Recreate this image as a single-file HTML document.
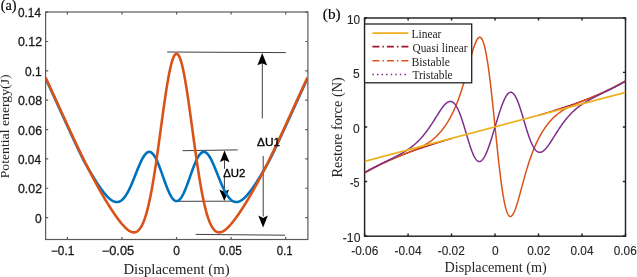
<!DOCTYPE html>
<html><head><meta charset="utf-8"><style>
html,body{margin:0;padding:0;background:#fff;}
body{width:637px;height:277px;overflow:hidden;}
svg{display:block;filter:blur(0.3px);}
.sans{font-family:"Liberation Sans",sans-serif;}
.serif{font-family:"Liberation Serif",serif;}
</style></head><body>
<svg width="637" height="277" viewBox="0 0 637 277">
<rect width="637" height="277" fill="#fff"/>

<g fill="none" stroke="#5a5a5a" stroke-width="1.2">
<rect x="45.60" y="12.00" width="262.30" height="227.50"/>
<path d="M67.39 239.50 V236.90 M67.39 12.00 V14.60 M121.97 239.50 V236.90 M121.97 12.00 V14.60 M176.55 239.50 V236.90 M176.55 12.00 V14.60 M231.13 239.50 V236.90 M231.13 12.00 V14.60 M285.71 239.50 V236.90 M285.71 12.00 V14.60 M45.60 217.60 H48.20 M307.90 217.60 H305.30 M45.60 188.25 H48.20 M307.90 188.25 H305.30 M45.60 158.89 H48.20 M307.90 158.89 H305.30 M45.60 129.54 H48.20 M307.90 129.54 H305.30 M45.60 100.18 H48.20 M307.90 100.18 H305.30 M45.60 70.83 H48.20 M307.90 70.83 H305.30 M45.60 41.48 H48.20 M307.90 41.48 H305.30 M45.60 12.12 H48.20 M307.90 12.12 H305.30"/>
</g>
<g stroke="#2a2a2a" stroke-width="0.9" fill="none">
<path d="M167.2 52.0 L285.9 52.6 M195.7 234.4 L285.2 235.2 M182.5 150.7 L237.7 149.9 M177.9 201.3 L233 201.2"/>
<path d="M262.3 60 V118.4 M263.2 155.9 V216.5 M224.5 158 V168.9 M224.4 177 V190.5"/>
</g>
<path d="M262.20 52.90 L267.20 65.50 L262.20 63.20 L257.40 65.30 Z" fill="#000"/>
<path d="M263.10 227.50 L267.90 215.40 L263.10 218.00 L258.30 215.40 Z" fill="#000"/>
<path d="M224.50 150.40 L229.50 162.30 L224.50 160.00 L220.00 161.90 Z" fill="#000"/>
<path d="M224.30 201.10 L229.10 189.40 L224.30 191.80 L219.40 189.40 Z" fill="#000"/>
<clipPath id="cl"><rect x="45.60" y="12.00" width="262.30" height="227.50"/></clipPath>
<g clip-path="url(#cl)">
<path d="M45.56 78.40 L45.99 79.32 L46.43 80.25 L46.87 81.19 L47.30 82.12 L47.74 83.06 L48.18 84.00 L48.61 84.94 L49.05 85.88 L49.49 86.82 L49.92 87.76 L50.36 88.71 L50.80 89.66 L51.23 90.61 L51.67 91.55 L52.11 92.50 L52.54 93.46 L52.98 94.41 L53.42 95.36 L53.85 96.32 L54.29 97.27 L54.73 98.23 L55.16 99.18 L55.60 100.14 L56.04 101.10 L56.47 102.05 L56.91 103.01 L57.35 103.97 L57.78 104.93 L58.22 105.89 L58.66 106.85 L59.09 107.81 L59.53 108.77 L59.97 109.72 L60.40 110.68 L60.84 111.64 L61.28 112.60 L61.71 113.56 L62.15 114.52 L62.59 115.48 L63.02 116.43 L63.46 117.39 L63.90 118.35 L64.33 119.30 L64.77 120.26 L65.21 121.21 L65.64 122.17 L66.08 123.12 L66.52 124.07 L66.95 125.02 L67.39 125.97 L67.83 126.92 L68.26 127.87 L68.70 128.82 L69.14 129.77 L69.57 130.71 L70.01 131.66 L70.45 132.60 L70.88 133.54 L71.32 134.48 L71.76 135.42 L72.19 136.36 L72.63 137.29 L73.07 138.23 L73.50 139.16 L73.94 140.09 L74.38 141.02 L74.81 141.96 L75.25 142.89 L75.69 143.83 L76.12 144.77 L76.56 145.71 L77.00 146.64 L77.43 147.58 L77.87 148.51 L78.31 149.43 L78.74 150.36 L79.18 151.27 L79.62 152.18 L80.05 153.09 L80.49 153.99 L80.93 154.88 L81.36 155.76 L81.80 156.64 L82.24 157.51 L82.67 158.37 L83.11 159.22 L83.55 160.06 L83.98 160.89 L84.42 161.71 L84.86 162.52 L85.29 163.33 L85.73 164.12 L86.17 164.91 L86.60 165.69 L87.04 166.46 L87.48 167.23 L87.91 167.98 L88.35 168.74 L88.79 169.48 L89.22 170.22 L89.66 170.96 L90.10 171.69 L90.53 172.43 L90.97 173.16 L91.41 173.89 L91.84 174.63 L92.28 175.35 L92.72 176.08 L93.15 176.79 L93.59 177.51 L94.03 178.22 L94.46 178.92 L94.90 179.62 L95.33 180.31 L95.77 181.00 L96.21 181.68 L96.64 182.36 L97.08 183.03 L97.52 183.70 L97.95 184.36 L98.39 185.01 L98.83 185.66 L99.26 186.30 L99.70 186.93 L100.14 187.56 L100.57 188.18 L101.01 188.79 L101.45 189.39 L101.88 189.99 L102.32 190.57 L102.76 191.15 L103.19 191.72 L103.63 192.28 L104.07 192.83 L104.50 193.36 L104.94 193.89 L105.38 194.41 L105.81 194.91 L106.25 195.40 L106.69 195.88 L107.12 196.35 L107.56 196.80 L108.00 197.24 L108.43 197.66 L108.87 198.07 L109.31 198.46 L109.74 198.83 L110.18 199.19 L110.62 199.53 L111.05 199.85 L111.49 200.16 L111.93 200.44 L112.36 200.70 L112.80 200.94 L113.24 201.16 L113.67 201.36 L114.11 201.53 L114.55 201.68 L114.98 201.81 L115.42 201.91 L115.86 201.98 L116.29 202.03 L116.73 202.05 L117.17 202.04 L117.60 202.00 L118.04 201.94 L118.48 201.84 L118.91 201.72 L119.35 201.56 L119.79 201.37 L120.22 201.15 L120.66 200.90 L121.10 200.62 L121.53 200.30 L121.97 199.95 L122.41 199.57 L122.84 199.15 L123.28 198.70 L123.72 198.21 L124.15 197.70 L124.59 197.14 L125.03 196.56 L125.46 195.94 L125.90 195.29 L126.34 194.61 L126.77 193.90 L127.21 193.15 L127.65 192.38 L128.08 191.57 L128.52 190.74 L128.96 189.88 L129.39 188.99 L129.83 188.07 L130.27 187.14 L130.70 186.17 L131.14 185.19 L131.58 184.19 L132.01 183.17 L132.45 182.13 L132.89 181.08 L133.32 180.01 L133.76 178.93 L134.20 177.84 L134.63 176.75 L135.07 175.65 L135.51 174.55 L135.94 173.45 L136.38 172.35 L136.82 171.25 L137.25 170.16 L137.69 169.08 L138.13 168.01 L138.56 166.96 L139.00 165.92 L139.44 164.90 L139.87 163.90 L140.31 162.93 L140.75 161.98 L141.18 161.07 L141.62 160.18 L142.06 159.33 L142.49 158.51 L142.93 157.73 L143.37 156.99 L143.80 156.30 L144.24 155.65 L144.68 155.04 L145.11 154.49 L145.55 153.98 L145.99 153.53 L146.42 153.13 L146.86 152.78 L147.30 152.49 L147.73 152.25 L148.17 152.07 L148.61 151.96 L149.04 151.90 L149.48 151.90 L149.91 151.95 L150.35 152.07 L150.79 152.25 L151.22 152.49 L151.66 152.79 L152.10 153.14 L152.53 153.56 L152.97 154.03 L153.41 154.56 L153.84 155.14 L154.28 155.78 L154.72 156.47 L155.15 157.21 L155.59 158.00 L156.03 158.84 L156.46 159.72 L156.90 160.64 L157.34 161.61 L157.77 162.61 L158.21 163.65 L158.65 164.72 L159.08 165.82 L159.52 166.95 L159.96 168.10 L160.39 169.28 L160.83 170.47 L161.27 171.68 L161.70 172.90 L162.14 174.13 L162.58 175.37 L163.01 176.61 L163.45 177.85 L163.89 179.09 L164.32 180.32 L164.76 181.54 L165.20 182.75 L165.63 183.94 L166.07 185.11 L166.51 186.26 L166.94 187.39 L167.38 188.49 L167.82 189.56 L168.25 190.59 L168.69 191.59 L169.13 192.55 L169.56 193.46 L170.00 194.34 L170.44 195.17 L170.87 195.95 L171.31 196.68 L171.75 197.36 L172.18 197.99 L172.62 198.56 L173.06 199.08 L173.49 199.54 L173.93 199.94 L174.37 200.27 L174.80 200.55 L175.24 200.77 L175.68 200.93 L176.11 201.02 L176.55 201.05 L176.99 201.02 L177.42 200.93 L177.86 200.77 L178.30 200.55 L178.73 200.27 L179.17 199.94 L179.61 199.54 L180.04 199.08 L180.48 198.56 L180.92 197.99 L181.35 197.36 L181.79 196.68 L182.23 195.95 L182.66 195.17 L183.10 194.34 L183.54 193.46 L183.97 192.55 L184.41 191.59 L184.85 190.59 L185.28 189.56 L185.72 188.49 L186.16 187.39 L186.59 186.26 L187.03 185.11 L187.47 183.94 L187.90 182.75 L188.34 181.54 L188.78 180.32 L189.21 179.09 L189.65 177.85 L190.09 176.61 L190.52 175.37 L190.96 174.13 L191.40 172.90 L191.83 171.68 L192.27 170.47 L192.71 169.28 L193.14 168.10 L193.58 166.95 L194.02 165.82 L194.45 164.72 L194.89 163.65 L195.33 162.61 L195.76 161.61 L196.20 160.64 L196.64 159.72 L197.07 158.84 L197.51 158.00 L197.95 157.21 L198.38 156.47 L198.82 155.78 L199.26 155.14 L199.69 154.56 L200.13 154.03 L200.57 153.56 L201.00 153.14 L201.44 152.79 L201.88 152.49 L202.31 152.25 L202.75 152.07 L203.19 151.95 L203.62 151.90 L204.06 151.90 L204.49 151.96 L204.93 152.07 L205.37 152.25 L205.80 152.49 L206.24 152.78 L206.68 153.13 L207.11 153.53 L207.55 153.98 L207.99 154.49 L208.42 155.04 L208.86 155.65 L209.30 156.30 L209.73 156.99 L210.17 157.73 L210.61 158.51 L211.04 159.33 L211.48 160.18 L211.92 161.07 L212.35 161.98 L212.79 162.93 L213.23 163.90 L213.66 164.90 L214.10 165.92 L214.54 166.96 L214.97 168.01 L215.41 169.08 L215.85 170.16 L216.28 171.25 L216.72 172.35 L217.16 173.45 L217.59 174.55 L218.03 175.65 L218.47 176.75 L218.90 177.84 L219.34 178.93 L219.78 180.01 L220.21 181.08 L220.65 182.13 L221.09 183.17 L221.52 184.19 L221.96 185.19 L222.40 186.17 L222.83 187.14 L223.27 188.07 L223.71 188.99 L224.14 189.88 L224.58 190.74 L225.02 191.57 L225.45 192.38 L225.89 193.15 L226.33 193.90 L226.76 194.61 L227.20 195.29 L227.64 195.94 L228.07 196.56 L228.51 197.14 L228.95 197.70 L229.38 198.21 L229.82 198.70 L230.26 199.15 L230.69 199.57 L231.13 199.95 L231.57 200.30 L232.00 200.62 L232.44 200.90 L232.88 201.15 L233.31 201.37 L233.75 201.56 L234.19 201.72 L234.62 201.84 L235.06 201.94 L235.50 202.00 L235.93 202.04 L236.37 202.05 L236.81 202.03 L237.24 201.98 L237.68 201.91 L238.12 201.81 L238.55 201.68 L238.99 201.53 L239.43 201.36 L239.86 201.16 L240.30 200.94 L240.74 200.70 L241.17 200.44 L241.61 200.16 L242.05 199.85 L242.48 199.53 L242.92 199.19 L243.36 198.83 L243.79 198.46 L244.23 198.07 L244.67 197.66 L245.10 197.24 L245.54 196.80 L245.98 196.35 L246.41 195.88 L246.85 195.40 L247.29 194.91 L247.72 194.41 L248.16 193.89 L248.60 193.36 L249.03 192.83 L249.47 192.28 L249.91 191.72 L250.34 191.15 L250.78 190.57 L251.22 189.99 L251.65 189.39 L252.09 188.79 L252.53 188.18 L252.96 187.56 L253.40 186.93 L253.84 186.30 L254.27 185.66 L254.71 185.01 L255.15 184.36 L255.58 183.70 L256.02 183.03 L256.46 182.36 L256.89 181.68 L257.33 181.00 L257.77 180.31 L258.20 179.62 L258.64 178.92 L259.07 178.22 L259.51 177.51 L259.95 176.79 L260.38 176.08 L260.82 175.35 L261.26 174.63 L261.69 173.89 L262.13 173.16 L262.57 172.43 L263.00 171.69 L263.44 170.96 L263.88 170.22 L264.31 169.48 L264.75 168.74 L265.19 167.98 L265.62 167.23 L266.06 166.46 L266.50 165.69 L266.93 164.91 L267.37 164.12 L267.81 163.33 L268.24 162.52 L268.68 161.71 L269.12 160.89 L269.55 160.06 L269.99 159.22 L270.43 158.37 L270.86 157.51 L271.30 156.64 L271.74 155.76 L272.17 154.88 L272.61 153.99 L273.05 153.09 L273.48 152.18 L273.92 151.27 L274.36 150.36 L274.79 149.43 L275.23 148.51 L275.67 147.58 L276.10 146.64 L276.54 145.71 L276.98 144.77 L277.41 143.83 L277.85 142.89 L278.29 141.96 L278.72 141.02 L279.16 140.09 L279.60 139.16 L280.03 138.23 L280.47 137.29 L280.91 136.36 L281.34 135.42 L281.78 134.48 L282.22 133.54 L282.65 132.60 L283.09 131.66 L283.53 130.71 L283.96 129.77 L284.40 128.82 L284.84 127.87 L285.27 126.92 L285.71 125.97 L286.15 125.02 L286.58 124.07 L287.02 123.12 L287.46 122.17 L287.89 121.21 L288.33 120.26 L288.77 119.30 L289.20 118.35 L289.64 117.39 L290.08 116.43 L290.51 115.48 L290.95 114.52 L291.39 113.56 L291.82 112.60 L292.26 111.64 L292.70 110.68 L293.13 109.72 L293.57 108.77 L294.01 107.81 L294.44 106.85 L294.88 105.89 L295.32 104.93 L295.75 103.97 L296.19 103.01 L296.63 102.05 L297.06 101.10 L297.50 100.14 L297.94 99.18 L298.37 98.23 L298.81 97.27 L299.25 96.32 L299.68 95.36 L300.12 94.41 L300.56 93.46 L300.99 92.50 L301.43 91.55 L301.87 90.61 L302.30 89.66 L302.74 88.71 L303.18 87.76 L303.61 86.82 L304.05 85.88 L304.49 84.94 L304.92 84.00 L305.36 83.06 L305.80 82.12 L306.23 81.19 L306.67 80.25 L307.11 79.32 L307.54 78.40" fill="none" stroke="#0072bd" stroke-width="2.6" stroke-linejoin="round"/>
<path d="M45.56 77.50 L45.99 78.42 L46.43 79.35 L46.87 80.29 L47.30 81.22 L47.74 82.16 L48.18 83.10 L48.61 84.04 L49.05 84.98 L49.49 85.92 L49.92 86.86 L50.36 87.81 L50.80 88.76 L51.23 89.71 L51.67 90.65 L52.11 91.60 L52.54 92.56 L52.98 93.51 L53.42 94.46 L53.85 95.42 L54.29 96.37 L54.73 97.33 L55.16 98.28 L55.60 99.24 L56.04 100.20 L56.47 101.15 L56.91 102.11 L57.35 103.07 L57.78 104.03 L58.22 104.99 L58.66 105.95 L59.09 106.91 L59.53 107.87 L59.97 108.82 L60.40 109.78 L60.84 110.74 L61.28 111.70 L61.71 112.66 L62.15 113.62 L62.59 114.58 L63.02 115.53 L63.46 116.49 L63.90 117.45 L64.33 118.40 L64.77 119.36 L65.21 120.31 L65.64 121.27 L66.08 122.22 L66.52 123.17 L66.95 124.12 L67.39 125.07 L67.83 126.02 L68.26 126.97 L68.70 127.92 L69.14 128.87 L69.57 129.81 L70.01 130.76 L70.45 131.70 L70.88 132.64 L71.32 133.58 L71.76 134.52 L72.19 135.46 L72.63 136.39 L73.07 137.33 L73.50 138.26 L73.94 139.19 L74.38 140.12 L74.81 141.05 L75.25 141.97 L75.69 142.90 L76.12 143.82 L76.56 144.74 L77.00 145.66 L77.43 146.58 L77.87 147.49 L78.31 148.41 L78.74 149.32 L79.18 150.23 L79.62 151.13 L80.05 152.04 L80.49 152.94 L80.93 153.84 L81.36 154.74 L81.80 155.64 L82.24 156.53 L82.67 157.42 L83.11 158.31 L83.55 159.20 L83.98 160.08 L84.42 160.96 L84.86 161.84 L85.29 162.72 L85.73 163.59 L86.17 164.46 L86.60 165.33 L87.04 166.20 L87.48 167.06 L87.91 167.92 L88.35 168.78 L88.79 169.64 L89.22 170.49 L89.66 171.34 L90.10 172.18 L90.53 173.03 L90.97 173.87 L91.41 174.71 L91.84 175.54 L92.28 176.37 L92.72 177.20 L93.15 178.03 L93.59 178.85 L94.03 179.67 L94.46 180.49 L94.90 181.30 L95.33 182.11 L95.77 182.92 L96.21 183.72 L96.64 184.52 L97.08 185.32 L97.52 186.11 L97.95 186.90 L98.39 187.69 L98.83 188.47 L99.26 189.25 L99.70 190.03 L100.14 190.80 L100.57 191.57 L101.01 192.34 L101.45 193.10 L101.88 193.86 L102.32 194.62 L102.76 195.37 L103.19 196.12 L103.63 196.86 L104.07 197.60 L104.50 198.34 L104.94 199.07 L105.38 199.80 L105.81 200.53 L106.25 201.25 L106.69 201.97 L107.12 202.68 L107.56 203.39 L108.00 204.09 L108.43 204.80 L108.87 205.49 L109.31 206.19 L109.74 206.87 L110.18 207.56 L110.62 208.24 L111.05 208.91 L111.49 209.59 L111.93 210.25 L112.36 210.91 L112.80 211.57 L113.24 212.22 L113.67 212.87 L114.11 213.51 L114.55 214.15 L114.98 214.78 L115.42 215.40 L115.86 216.02 L116.29 216.64 L116.73 217.24 L117.17 217.85 L117.60 218.44 L118.04 219.03 L118.48 219.61 L118.91 220.19 L119.35 220.76 L119.79 221.32 L120.22 221.87 L120.66 222.41 L121.10 222.95 L121.53 223.47 L121.97 223.99 L122.41 224.50 L122.84 225.00 L123.28 225.49 L123.72 225.96 L124.15 226.43 L124.59 226.88 L125.03 227.32 L125.46 227.75 L125.90 228.16 L126.34 228.56 L126.77 228.95 L127.21 229.32 L127.65 229.67 L128.08 230.00 L128.52 230.32 L128.96 230.62 L129.39 230.90 L129.83 231.16 L130.27 231.39 L130.70 231.61 L131.14 231.80 L131.58 231.96 L132.01 232.10 L132.45 232.21 L132.89 232.30 L133.32 232.35 L133.76 232.38 L134.20 232.37 L134.63 232.33 L135.07 232.25 L135.51 232.14 L135.94 231.99 L136.38 231.80 L136.82 231.57 L137.25 231.30 L137.69 230.98 L138.13 230.62 L138.56 230.22 L139.00 229.76 L139.44 229.26 L139.87 228.70 L140.31 228.10 L140.75 227.43 L141.18 226.72 L141.62 225.94 L142.06 225.11 L142.49 224.22 L142.93 223.27 L143.37 222.25 L143.80 221.17 L144.24 220.03 L144.68 218.82 L145.11 217.54 L145.55 216.19 L145.99 214.78 L146.42 213.29 L146.86 211.74 L147.30 210.11 L147.73 208.41 L148.17 206.64 L148.61 204.80 L149.04 202.89 L149.48 200.90 L149.91 198.85 L150.35 196.72 L150.79 194.52 L151.22 192.25 L151.66 189.91 L152.10 187.51 L152.53 185.04 L152.97 182.50 L153.41 179.90 L153.84 177.24 L154.28 174.52 L154.72 171.74 L155.15 168.91 L155.59 166.03 L156.03 163.10 L156.46 160.12 L156.90 157.10 L157.34 154.04 L157.77 150.95 L158.21 147.82 L158.65 144.67 L159.08 141.50 L159.52 138.30 L159.96 135.10 L160.39 131.88 L160.83 128.66 L161.27 125.44 L161.70 122.23 L162.14 119.02 L162.58 115.84 L163.01 112.67 L163.45 109.54 L163.89 106.43 L164.32 103.37 L164.76 100.35 L165.20 97.38 L165.63 94.46 L166.07 91.60 L166.51 88.81 L166.94 86.10 L167.38 83.46 L167.82 80.90 L168.25 78.43 L168.69 76.06 L169.13 73.78 L169.56 71.60 L170.00 69.53 L170.44 67.57 L170.87 65.73 L171.31 64.01 L171.75 62.41 L172.18 60.94 L172.62 59.60 L173.06 58.39 L173.49 57.32 L173.93 56.38 L174.37 55.59 L174.80 54.93 L175.24 54.43 L175.68 54.06 L176.11 53.84 L176.55 53.77 L176.99 53.84 L177.42 54.06 L177.86 54.43 L178.30 54.93 L178.73 55.59 L179.17 56.38 L179.61 57.32 L180.04 58.39 L180.48 59.60 L180.92 60.94 L181.35 62.41 L181.79 64.01 L182.23 65.73 L182.66 67.57 L183.10 69.53 L183.54 71.60 L183.97 73.78 L184.41 76.06 L184.85 78.43 L185.28 80.90 L185.72 83.46 L186.16 86.10 L186.59 88.81 L187.03 91.60 L187.47 94.46 L187.90 97.38 L188.34 100.35 L188.78 103.37 L189.21 106.43 L189.65 109.54 L190.09 112.67 L190.52 115.84 L190.96 119.02 L191.40 122.23 L191.83 125.44 L192.27 128.66 L192.71 131.88 L193.14 135.10 L193.58 138.30 L194.02 141.50 L194.45 144.67 L194.89 147.82 L195.33 150.95 L195.76 154.04 L196.20 157.10 L196.64 160.12 L197.07 163.10 L197.51 166.03 L197.95 168.91 L198.38 171.74 L198.82 174.52 L199.26 177.24 L199.69 179.90 L200.13 182.50 L200.57 185.04 L201.00 187.51 L201.44 189.91 L201.88 192.25 L202.31 194.52 L202.75 196.72 L203.19 198.85 L203.62 200.90 L204.06 202.89 L204.49 204.80 L204.93 206.64 L205.37 208.41 L205.80 210.11 L206.24 211.74 L206.68 213.29 L207.11 214.78 L207.55 216.19 L207.99 217.54 L208.42 218.82 L208.86 220.03 L209.30 221.17 L209.73 222.25 L210.17 223.27 L210.61 224.22 L211.04 225.11 L211.48 225.94 L211.92 226.72 L212.35 227.43 L212.79 228.10 L213.23 228.70 L213.66 229.26 L214.10 229.76 L214.54 230.22 L214.97 230.62 L215.41 230.98 L215.85 231.30 L216.28 231.57 L216.72 231.80 L217.16 231.99 L217.59 232.14 L218.03 232.25 L218.47 232.33 L218.90 232.37 L219.34 232.38 L219.78 232.35 L220.21 232.30 L220.65 232.21 L221.09 232.10 L221.52 231.96 L221.96 231.80 L222.40 231.61 L222.83 231.39 L223.27 231.16 L223.71 230.90 L224.14 230.62 L224.58 230.32 L225.02 230.00 L225.45 229.67 L225.89 229.32 L226.33 228.95 L226.76 228.56 L227.20 228.16 L227.64 227.75 L228.07 227.32 L228.51 226.88 L228.95 226.43 L229.38 225.96 L229.82 225.49 L230.26 225.00 L230.69 224.50 L231.13 223.99 L231.57 223.47 L232.00 222.95 L232.44 222.41 L232.88 221.87 L233.31 221.32 L233.75 220.76 L234.19 220.19 L234.62 219.61 L235.06 219.03 L235.50 218.44 L235.93 217.85 L236.37 217.24 L236.81 216.64 L237.24 216.02 L237.68 215.40 L238.12 214.78 L238.55 214.15 L238.99 213.51 L239.43 212.87 L239.86 212.22 L240.30 211.57 L240.74 210.91 L241.17 210.25 L241.61 209.59 L242.05 208.91 L242.48 208.24 L242.92 207.56 L243.36 206.87 L243.79 206.19 L244.23 205.49 L244.67 204.80 L245.10 204.09 L245.54 203.39 L245.98 202.68 L246.41 201.97 L246.85 201.25 L247.29 200.53 L247.72 199.80 L248.16 199.07 L248.60 198.34 L249.03 197.60 L249.47 196.86 L249.91 196.12 L250.34 195.37 L250.78 194.62 L251.22 193.86 L251.65 193.10 L252.09 192.34 L252.53 191.57 L252.96 190.80 L253.40 190.03 L253.84 189.25 L254.27 188.47 L254.71 187.69 L255.15 186.90 L255.58 186.11 L256.02 185.32 L256.46 184.52 L256.89 183.72 L257.33 182.92 L257.77 182.11 L258.20 181.30 L258.64 180.49 L259.07 179.67 L259.51 178.85 L259.95 178.03 L260.38 177.20 L260.82 176.37 L261.26 175.54 L261.69 174.71 L262.13 173.87 L262.57 173.03 L263.00 172.18 L263.44 171.34 L263.88 170.49 L264.31 169.64 L264.75 168.78 L265.19 167.92 L265.62 167.06 L266.06 166.20 L266.50 165.33 L266.93 164.46 L267.37 163.59 L267.81 162.72 L268.24 161.84 L268.68 160.96 L269.12 160.08 L269.55 159.20 L269.99 158.31 L270.43 157.42 L270.86 156.53 L271.30 155.64 L271.74 154.74 L272.17 153.84 L272.61 152.94 L273.05 152.04 L273.48 151.13 L273.92 150.23 L274.36 149.32 L274.79 148.41 L275.23 147.49 L275.67 146.58 L276.10 145.66 L276.54 144.74 L276.98 143.82 L277.41 142.90 L277.85 141.97 L278.29 141.05 L278.72 140.12 L279.16 139.19 L279.60 138.26 L280.03 137.33 L280.47 136.39 L280.91 135.46 L281.34 134.52 L281.78 133.58 L282.22 132.64 L282.65 131.70 L283.09 130.76 L283.53 129.81 L283.96 128.87 L284.40 127.92 L284.84 126.97 L285.27 126.02 L285.71 125.07 L286.15 124.12 L286.58 123.17 L287.02 122.22 L287.46 121.27 L287.89 120.31 L288.33 119.36 L288.77 118.40 L289.20 117.45 L289.64 116.49 L290.08 115.53 L290.51 114.58 L290.95 113.62 L291.39 112.66 L291.82 111.70 L292.26 110.74 L292.70 109.78 L293.13 108.82 L293.57 107.87 L294.01 106.91 L294.44 105.95 L294.88 104.99 L295.32 104.03 L295.75 103.07 L296.19 102.11 L296.63 101.15 L297.06 100.20 L297.50 99.24 L297.94 98.28 L298.37 97.33 L298.81 96.37 L299.25 95.42 L299.68 94.46 L300.12 93.51 L300.56 92.56 L300.99 91.60 L301.43 90.65 L301.87 89.71 L302.30 88.76 L302.74 87.81 L303.18 86.86 L303.61 85.92 L304.05 84.98 L304.49 84.04 L304.92 83.10 L305.36 82.16 L305.80 81.22 L306.23 80.29 L306.67 79.35 L307.11 78.42 L307.54 77.50" fill="none" stroke="#d95319" stroke-width="2.6" stroke-linejoin="round"/>
</g>
<g fill="none" stroke="#222" stroke-width="1.45">
<rect x="364.60" y="18.00" width="260.90" height="218.20"/>
<path d="M364.61 236.20 V233.60 M364.61 18.00 V20.60 M408.09 236.20 V233.60 M408.09 18.00 V20.60 M451.57 236.20 V233.60 M451.57 18.00 V20.60 M495.05 236.20 V233.60 M495.05 18.00 V20.60 M538.53 236.20 V233.60 M538.53 18.00 V20.60 M582.01 236.20 V233.60 M582.01 18.00 V20.60 M625.49 236.20 V233.60 M625.49 18.00 V20.60 M364.60 236.00 H367.20 M625.50 236.00 H622.90 M364.60 181.45 H367.20 M625.50 181.45 H622.90 M364.60 126.90 H367.20 M625.50 126.90 H622.90 M364.60 72.35 H367.20 M625.50 72.35 H622.90 M364.60 17.80 H367.20 M625.50 17.80 H622.90"/>
</g>
<clipPath id="cr"><rect x="364.60" y="18.00" width="260.90" height="218.20"/></clipPath>
<g clip-path="url(#cr)">
<path d="M364.61 172.62 L365.04 172.37 L365.48 172.12 L365.91 171.87 L366.35 171.63 L366.78 171.38 L367.22 171.14 L367.65 170.90 L368.09 170.66 L368.52 170.42 L368.96 170.18 L369.39 169.94 L369.83 169.71 L370.26 169.47 L370.70 169.24 L371.13 169.01 L371.57 168.78 L372.00 168.55 L372.44 168.32 L372.87 168.09 L373.31 167.86 L373.74 167.64 L374.18 167.41 L374.61 167.19 L375.05 166.97 L375.48 166.75 L375.91 166.53 L376.35 166.31 L376.78 166.09 L377.22 165.87 L377.65 165.66 L378.09 165.44 L378.52 165.23 L378.96 165.01 L379.39 164.80 L379.83 164.59 L380.26 164.38 L380.70 164.17 L381.13 163.96 L381.57 163.76 L382.00 163.55 L382.44 163.35 L382.87 163.14 L383.31 162.94 L383.74 162.73 L384.18 162.53 L384.61 162.33 L385.05 162.13 L385.48 161.93 L385.92 161.74 L386.35 161.54 L386.78 161.34 L387.22 161.15 L387.65 160.95 L388.09 160.76 L388.52 160.57 L388.96 160.37 L389.39 160.18 L389.83 159.99 L390.26 159.80 L390.70 159.62 L391.13 159.43 L391.57 159.24 L392.00 159.05 L392.44 158.87 L392.87 158.68 L393.31 158.50 L393.74 158.32 L394.18 158.13 L394.61 157.95 L395.05 157.77 L395.48 157.59 L395.92 157.41 L396.35 157.23 L396.79 157.06 L397.22 156.88 L397.65 156.70 L398.09 156.53 L398.52 156.35 L398.96 156.18 L399.39 156.00 L399.83 155.83 L400.26 155.66 L400.70 155.49 L401.13 155.31 L401.57 155.14 L402.00 154.97 L402.44 154.80 L402.87 154.64 L403.31 154.47 L403.74 154.30 L404.18 154.13 L404.61 153.97 L405.05 153.80 L405.48 153.64 L405.92 153.47 L406.35 153.31 L406.79 153.15 L407.22 152.99 L407.66 152.82 L408.09 152.66 L408.52 152.50 L408.96 152.34 L409.39 152.18 L409.83 152.02 L410.26 151.86 L410.70 151.71 L411.13 151.55 L411.57 151.39 L412.00 151.24 L412.44 151.08 L412.87 150.93 L413.31 150.77 L413.74 150.62 L414.18 150.46 L414.61 150.31 L415.05 150.16 L415.48 150.01 L415.92 149.85 L416.35 149.70 L416.79 149.55 L417.22 149.40 L417.66 149.25 L418.09 149.10 L418.53 148.95 L418.96 148.80 L419.39 148.66 L419.83 148.51 L420.26 148.36 L420.70 148.22 L421.13 148.07 L421.57 147.92 L422.00 147.78 L422.44 147.63 L422.87 147.49 L423.31 147.35 L423.74 147.20 L424.18 147.06 L424.61 146.92 L425.05 146.77 L425.48 146.63 L425.92 146.49 L426.35 146.35 L426.79 146.21 L427.22 146.07 L427.66 145.93 L428.09 145.79 L428.53 145.65 L428.96 145.51 L429.40 145.37 L429.83 145.23 L430.26 145.09 L430.70 144.96 L431.13 144.82 L431.57 144.68 L432.00 144.54 L432.44 144.40 L432.87 144.26 L433.31 144.12 L433.74 143.98 L434.18 143.84 L434.61 143.70 L435.05 143.56 L435.48 143.42 L435.92 143.28 L436.35 143.14 L436.79 143.00 L437.22 142.86 L437.66 142.73 L438.09 142.59 L438.53 142.45 L438.96 142.31 L439.40 142.18 L439.83 142.04 L440.27 141.90 L440.70 141.77 L441.13 141.63 L441.57 141.50 L442.00 141.36 L442.44 141.23 L442.87 141.10 L443.31 140.96 L443.74 140.83 L444.18 140.70 L444.61 140.57 L445.05 140.44 L445.48 140.30 L445.92 140.17 L446.35 140.04 L446.79 139.92 L447.22 139.79 L447.66 139.66 L448.09 139.53 L448.53 139.40 L448.96 139.28 L449.40 139.15 L449.83 139.02 L450.27 138.90 L450.70 138.77 L451.14 138.65 L451.57 138.53 M538.53 115.27 L538.96 115.15 L539.40 115.03 L539.83 114.90 L540.27 114.78 L540.70 114.65 L541.14 114.52 L541.57 114.40 L542.01 114.27 L542.44 114.14 L542.88 114.01 L543.31 113.88 L543.75 113.76 L544.18 113.63 L544.62 113.50 L545.05 113.36 L545.49 113.23 L545.92 113.10 L546.36 112.97 L546.79 112.84 L547.23 112.70 L547.66 112.57 L548.10 112.44 L548.53 112.30 L548.97 112.17 L549.40 112.03 L549.83 111.90 L550.27 111.76 L550.70 111.62 L551.14 111.49 L551.57 111.35 L552.01 111.21 L552.44 111.07 L552.88 110.94 L553.31 110.80 L553.75 110.66 L554.18 110.52 L554.62 110.38 L555.05 110.24 L555.49 110.10 L555.92 109.96 L556.36 109.82 L556.79 109.68 L557.23 109.54 L557.66 109.40 L558.10 109.26 L558.53 109.12 L558.97 108.98 L559.40 108.84 L559.84 108.71 L560.27 108.57 L560.70 108.43 L561.14 108.29 L561.57 108.15 L562.01 108.01 L562.44 107.87 L562.88 107.73 L563.31 107.59 L563.75 107.45 L564.18 107.31 L564.62 107.17 L565.05 107.03 L565.49 106.88 L565.92 106.74 L566.36 106.60 L566.79 106.45 L567.23 106.31 L567.66 106.17 L568.10 106.02 L568.53 105.88 L568.97 105.73 L569.40 105.58 L569.84 105.44 L570.27 105.29 L570.71 105.14 L571.14 105.00 L571.57 104.85 L572.01 104.70 L572.44 104.55 L572.88 104.40 L573.31 104.25 L573.75 104.10 L574.18 103.95 L574.62 103.79 L575.05 103.64 L575.49 103.49 L575.92 103.34 L576.36 103.18 L576.79 103.03 L577.23 102.87 L577.66 102.72 L578.10 102.56 L578.53 102.41 L578.97 102.25 L579.40 102.09 L579.84 101.94 L580.27 101.78 L580.71 101.62 L581.14 101.46 L581.58 101.30 L582.01 101.14 L582.44 100.98 L582.88 100.81 L583.31 100.65 L583.75 100.49 L584.18 100.33 L584.62 100.16 L585.05 100.00 L585.49 99.83 L585.92 99.67 L586.36 99.50 L586.79 99.33 L587.23 99.16 L587.66 99.00 L588.10 98.83 L588.53 98.66 L588.97 98.49 L589.40 98.31 L589.84 98.14 L590.27 97.97 L590.71 97.80 L591.14 97.62 L591.58 97.45 L592.01 97.27 L592.45 97.10 L592.88 96.92 L593.31 96.74 L593.75 96.57 L594.18 96.39 L594.62 96.21 L595.05 96.03 L595.49 95.85 L595.92 95.67 L596.36 95.48 L596.79 95.30 L597.23 95.12 L597.66 94.93 L598.10 94.75 L598.53 94.56 L598.97 94.37 L599.40 94.18 L599.84 94.00 L600.27 93.81 L600.71 93.62 L601.14 93.43 L601.58 93.23 L602.01 93.04 L602.45 92.85 L602.88 92.65 L603.32 92.46 L603.75 92.26 L604.18 92.06 L604.62 91.87 L605.05 91.67 L605.49 91.47 L605.92 91.27 L606.36 91.07 L606.79 90.86 L607.23 90.66 L607.66 90.45 L608.10 90.25 L608.53 90.04 L608.97 89.84 L609.40 89.63 L609.84 89.42 L610.27 89.21 L610.71 89.00 L611.14 88.79 L611.58 88.57 L612.01 88.36 L612.45 88.14 L612.88 87.93 L613.32 87.71 L613.75 87.49 L614.19 87.27 L614.62 87.05 L615.05 86.83 L615.49 86.61 L615.92 86.39 L616.36 86.16 L616.79 85.94 L617.23 85.71 L617.66 85.48 L618.10 85.25 L618.53 85.02 L618.97 84.79 L619.40 84.56 L619.84 84.33 L620.27 84.09 L620.71 83.86 L621.14 83.62 L621.58 83.38 L622.01 83.14 L622.45 82.90 L622.88 82.66 L623.32 82.42 L623.75 82.17 L624.19 81.93 L624.62 81.68 L625.06 81.43 L625.49 81.18" fill="none" stroke="#a2142f" stroke-width="1.4"/>
<path d="M364.61 173.08 L364.94 172.89 L365.26 172.70 L365.59 172.51 L365.91 172.32 L366.24 172.14 L366.57 171.95 L366.89 171.76 L367.22 171.58 L367.54 171.39 L367.87 171.21 L368.20 171.03 L368.52 170.84 L368.85 170.66 L369.18 170.48 L369.50 170.30 L369.83 170.12 L370.15 169.94 L370.48 169.76 L370.81 169.58 L371.13 169.41 L371.46 169.23 L371.78 169.05 L372.11 168.88 L372.44 168.70 L372.76 168.53 L373.09 168.36 L373.41 168.18 L373.74 168.01 L374.07 167.84 L374.39 167.67 L374.72 167.50 L375.05 167.33 L375.37 167.16 L375.70 166.99 L376.02 166.82 L376.35 166.66 L376.68 166.49 L377.00 166.32 L377.33 166.16 L377.65 165.99 L377.98 165.83 L378.31 165.67 L378.63 165.50 L378.96 165.34 L379.28 165.18 L379.61 165.02 L379.94 164.86 L380.26 164.70 L380.59 164.54 L380.92 164.38 L381.24 164.22 L381.57 164.06 L381.89 163.90 L382.22 163.75 L382.55 163.59 L382.87 163.43 L383.20 163.28 L383.52 163.12 L383.85 162.97 L384.18 162.82 L384.50 162.66 L384.83 162.51 L385.15 162.36 L385.48 162.21 L385.81 162.05 L386.13 161.90 L386.46 161.75 L386.78 161.60 L387.11 161.45 L387.44 161.31 L387.76 161.16 L388.09 161.01 L388.42 160.86 L388.74 160.71 L389.07 160.57 L389.39 160.42 L389.72 160.28 L390.05 160.13 L390.37 159.99 L390.70 159.84 L391.02 159.70 L391.35 159.55 L391.68 159.41 L392.00 159.27 L392.33 159.13 L392.65 158.99 L392.98 158.84 L393.31 158.70 L393.63 158.56 L393.96 158.42 L394.29 158.28 L394.61 158.14 L394.94 158.00 L395.26 157.86 L395.59 157.73 L395.92 157.59 L396.24 157.45 L396.57 157.31 L396.89 157.18 L397.22 157.04 L397.55 156.90 L397.87 156.77 L398.20 156.63 L398.52 156.49 L398.85 156.36 L399.18 156.22 L399.50 156.09 L399.83 155.95 L400.15 155.82 L400.48 155.69 L400.81 155.55 L401.13 155.42 L401.46 155.28 L401.79 155.15 L402.11 155.02 L402.44 154.89 L402.76 154.75 L403.09 154.62 L403.42 154.49 L403.74 154.35 L404.07 154.22 L404.39 154.09 L404.72 153.96 L405.05 153.83 L405.37 153.69 L405.70 153.56 L406.02 153.43 L406.35 153.30 L406.68 153.16 L407.00 153.03 L407.33 152.90 L407.66 152.77 L407.98 152.63 L408.31 152.50 L408.63 152.37 L408.96 152.24 L409.29 152.10 L409.61 151.97 L409.94 151.84 L410.26 151.70 L410.59 151.57 L410.92 151.43 L411.24 151.30 L411.57 151.16 L411.89 151.03 L412.22 150.89 L412.55 150.75 L412.87 150.62 L413.20 150.48 L413.53 150.34 L413.85 150.20 L414.18 150.06 L414.50 149.92 L414.83 149.78 L415.16 149.64 L415.48 149.50 L415.81 149.36 L416.13 149.21 L416.46 149.07 L416.79 148.92 L417.11 148.77 L417.44 148.63 L417.76 148.48 L418.09 148.33 L418.42 148.18 L418.74 148.03 L419.07 147.87 L419.39 147.72 L419.72 147.56 L420.05 147.40 L420.37 147.24 L420.70 147.08 L421.03 146.92 L421.35 146.76 L421.68 146.59 L422.00 146.43 L422.33 146.26 L422.66 146.09 L422.98 145.91 L423.31 145.74 L423.63 145.56 L423.96 145.38 L424.29 145.20 L424.61 145.02 L424.94 144.84 L425.26 144.65 L425.59 144.46 L425.92 144.27 L426.24 144.07 L426.57 143.87 L426.90 143.67 L427.22 143.47 L427.55 143.26 L427.87 143.05 L428.20 142.84 L428.53 142.63 L428.85 142.41 L429.18 142.19 L429.50 141.96 L429.83 141.74 L430.16 141.51 L430.48 141.27 L430.81 141.03 L431.13 140.79 L431.46 140.55 L431.79 140.30 L432.11 140.04 L432.44 139.79 L432.76 139.53 L433.09 139.26 L433.42 138.99 L433.74 138.72 L434.07 138.44 L434.40 138.16 L434.72 137.87 L435.05 137.58 L435.37 137.28 L435.70 136.98 L436.03 136.68 L436.35 136.37 L436.68 136.05 L437.00 135.73 L437.33 135.41 L437.66 135.08 L437.98 134.74 L438.31 134.40 L438.63 134.06 L438.96 133.71 L439.29 133.35 L439.61 132.99 L439.94 132.62 L440.27 132.24 L440.59 131.86 L440.92 131.48 L441.24 131.09 L441.57 130.69 L441.90 130.29 L442.22 129.88 L442.55 129.46 L442.87 129.04 L443.20 128.61 L443.53 128.17 L443.85 127.73 L444.18 127.28 L444.50 126.83 L444.83 126.37 L445.16 125.90 L445.48 125.42 L445.81 124.94 L446.13 124.45 L446.46 123.95 L446.79 123.44 L447.11 122.93 L447.44 122.41 L447.77 121.88 L448.09 121.34 L448.42 120.80 L448.74 120.24 L449.07 119.68 L449.40 119.11 L449.72 118.53 L450.05 117.95 L450.37 117.35 L450.70 116.75 L451.03 116.13 L451.35 115.51 L451.68 114.87 L452.00 114.23 L452.33 113.58 L452.66 112.91 L452.98 112.24 L453.31 111.56 L453.64 110.86 L453.96 110.15 L454.29 109.44 L454.61 108.71 L454.94 107.97 L455.27 107.22 L455.59 106.45 L455.92 105.68 L456.24 104.89 L456.57 104.09 L456.90 103.28 L457.22 102.45 L457.55 101.61 L457.87 100.76 L458.20 99.89 L458.53 99.02 L458.85 98.12 L459.18 97.22 L459.51 96.30 L459.83 95.36 L460.16 94.41 L460.48 93.45 L460.81 92.48 L461.14 91.49 L461.46 90.48 L461.79 89.46 L462.11 88.43 L462.44 87.39 L462.77 86.33 L463.09 85.26 L463.42 84.17 L463.74 83.07 L464.07 81.96 L464.40 80.84 L464.72 79.71 L465.05 78.57 L465.37 77.41 L465.70 76.25 L466.03 75.08 L466.35 73.89 L466.68 72.71 L467.01 71.51 L467.33 70.31 L467.66 69.11 L467.98 67.90 L468.31 66.69 L468.64 65.48 L468.96 64.27 L469.29 63.06 L469.61 61.86 L469.94 60.66 L470.27 59.47 L470.59 58.28 L470.92 57.11 L471.24 55.94 L471.57 54.79 L471.90 53.66 L472.22 52.54 L472.55 51.45 L472.88 50.38 L473.20 49.33 L473.53 48.31 L473.85 47.31 L474.18 46.35 L474.51 45.42 L474.83 44.53 L475.16 43.68 L475.48 42.87 L475.81 42.11 L476.14 41.39 L476.46 40.71 L476.79 40.10 L477.11 39.53 L477.44 39.02 L477.77 38.58 L478.09 38.19 L478.42 37.87 L478.75 37.61 L479.07 37.42 L479.40 37.31 L479.72 37.27 L480.05 37.30 L480.38 37.41 L480.70 37.61 L481.03 37.88 L481.35 38.24 L481.68 38.68 L482.01 39.21 L482.33 39.82 L482.66 40.53 L482.98 41.32 L483.31 42.21 L483.64 43.18 L483.96 44.25 L484.29 45.42 L484.61 46.67 L484.94 48.02 L485.27 49.46 L485.59 50.99 L485.92 52.61 L486.25 54.33 L486.57 56.13 L486.90 58.02 L487.22 60.01 L487.55 62.07 L487.88 64.22 L488.20 66.45 L488.53 68.76 L488.85 71.15 L489.18 73.62 L489.51 76.15 L489.83 78.76 L490.16 81.43 L490.48 84.17 L490.81 86.96 L491.14 89.81 L491.46 92.71 L491.79 95.66 L492.12 98.66 L492.44 101.69 L492.77 104.76 L493.09 107.87 L493.42 111.00 L493.75 114.15 L494.07 117.32 L494.40 120.51 L494.72 123.70 L495.05 126.90 L495.38 130.10 L495.70 133.29 L496.03 136.48 L496.35 139.65 L496.68 142.80 L497.01 145.93 L497.33 149.04 L497.66 152.11 L497.98 155.14 L498.31 158.14 L498.64 161.09 L498.96 163.99 L499.29 166.84 L499.62 169.63 L499.94 172.37 L500.27 175.04 L500.59 177.65 L500.92 180.18 L501.25 182.65 L501.57 185.04 L501.90 187.35 L502.22 189.58 L502.55 191.73 L502.88 193.79 L503.20 195.78 L503.53 197.67 L503.85 199.47 L504.18 201.19 L504.51 202.81 L504.83 204.34 L505.16 205.78 L505.49 207.13 L505.81 208.38 L506.14 209.55 L506.46 210.62 L506.79 211.59 L507.12 212.48 L507.44 213.27 L507.77 213.98 L508.09 214.59 L508.42 215.12 L508.75 215.56 L509.07 215.92 L509.40 216.19 L509.72 216.39 L510.05 216.50 L510.38 216.53 L510.70 216.49 L511.03 216.38 L511.36 216.19 L511.68 215.93 L512.01 215.61 L512.33 215.22 L512.66 214.78 L512.99 214.27 L513.31 213.70 L513.64 213.09 L513.96 212.41 L514.29 211.69 L514.62 210.93 L514.94 210.12 L515.27 209.27 L515.59 208.38 L515.92 207.45 L516.25 206.49 L516.57 205.49 L516.90 204.47 L517.22 203.42 L517.55 202.35 L517.88 201.26 L518.20 200.14 L518.53 199.01 L518.86 197.86 L519.18 196.69 L519.51 195.52 L519.83 194.33 L520.16 193.14 L520.49 191.94 L520.81 190.74 L521.14 189.53 L521.46 188.32 L521.79 187.11 L522.12 185.90 L522.44 184.69 L522.77 183.49 L523.09 182.29 L523.42 181.09 L523.75 179.91 L524.07 178.72 L524.40 177.55 L524.73 176.39 L525.05 175.23 L525.38 174.09 L525.70 172.96 L526.03 171.84 L526.36 170.73 L526.68 169.63 L527.01 168.54 L527.33 167.47 L527.66 166.41 L527.99 165.37 L528.31 164.34 L528.64 163.32 L528.96 162.31 L529.29 161.32 L529.62 160.35 L529.94 159.39 L530.27 158.44 L530.59 157.50 L530.92 156.58 L531.25 155.68 L531.57 154.78 L531.90 153.91 L532.23 153.04 L532.55 152.19 L532.88 151.35 L533.20 150.52 L533.53 149.71 L533.86 148.91 L534.18 148.12 L534.51 147.35 L534.83 146.58 L535.16 145.83 L535.49 145.09 L535.81 144.36 L536.14 143.65 L536.46 142.94 L536.79 142.24 L537.12 141.56 L537.44 140.89 L537.77 140.22 L538.10 139.57 L538.42 138.93 L538.75 138.29 L539.07 137.67 L539.40 137.05 L539.73 136.45 L540.05 135.85 L540.38 135.27 L540.70 134.69 L541.03 134.12 L541.36 133.56 L541.68 133.00 L542.01 132.46 L542.33 131.92 L542.66 131.39 L542.99 130.87 L543.31 130.36 L543.64 129.85 L543.97 129.35 L544.29 128.86 L544.62 128.38 L544.94 127.90 L545.27 127.43 L545.60 126.97 L545.92 126.52 L546.25 126.07 L546.57 125.63 L546.90 125.19 L547.23 124.76 L547.55 124.34 L547.88 123.92 L548.20 123.51 L548.53 123.11 L548.86 122.71 L549.18 122.32 L549.51 121.94 L549.83 121.56 L550.16 121.18 L550.49 120.81 L550.81 120.45 L551.14 120.09 L551.47 119.74 L551.79 119.40 L552.12 119.06 L552.44 118.72 L552.77 118.39 L553.10 118.07 L553.42 117.75 L553.75 117.43 L554.07 117.12 L554.40 116.82 L554.73 116.52 L555.05 116.22 L555.38 115.93 L555.70 115.64 L556.03 115.36 L556.36 115.08 L556.68 114.81 L557.01 114.54 L557.34 114.27 L557.66 114.01 L557.99 113.76 L558.31 113.50 L558.64 113.25 L558.97 113.01 L559.29 112.77 L559.62 112.53 L559.94 112.29 L560.27 112.06 L560.60 111.84 L560.92 111.61 L561.25 111.39 L561.57 111.17 L561.90 110.96 L562.23 110.75 L562.55 110.54 L562.88 110.33 L563.20 110.13 L563.53 109.93 L563.86 109.73 L564.18 109.53 L564.51 109.34 L564.84 109.15 L565.16 108.96 L565.49 108.78 L565.81 108.60 L566.14 108.42 L566.47 108.24 L566.79 108.06 L567.12 107.89 L567.44 107.71 L567.77 107.54 L568.10 107.37 L568.42 107.21 L568.75 107.04 L569.07 106.88 L569.40 106.72 L569.73 106.56 L570.05 106.40 L570.38 106.24 L570.71 106.08 L571.03 105.93 L571.36 105.77 L571.68 105.62 L572.01 105.47 L572.34 105.32 L572.66 105.17 L572.99 105.03 L573.31 104.88 L573.64 104.73 L573.97 104.59 L574.29 104.44 L574.62 104.30 L574.94 104.16 L575.27 104.02 L575.60 103.88 L575.92 103.74 L576.25 103.60 L576.58 103.46 L576.90 103.32 L577.23 103.18 L577.55 103.05 L577.88 102.91 L578.21 102.77 L578.53 102.64 L578.86 102.50 L579.18 102.37 L579.51 102.23 L579.84 102.10 L580.16 101.96 L580.49 101.83 L580.81 101.70 L581.14 101.56 L581.47 101.43 L581.79 101.30 L582.12 101.17 L582.44 101.03 L582.77 100.90 L583.10 100.77 L583.42 100.64 L583.75 100.50 L584.08 100.37 L584.40 100.24 L584.73 100.11 L585.05 99.97 L585.38 99.84 L585.71 99.71 L586.03 99.58 L586.36 99.45 L586.68 99.31 L587.01 99.18 L587.34 99.05 L587.66 98.91 L587.99 98.78 L588.31 98.65 L588.64 98.52 L588.97 98.38 L589.29 98.25 L589.62 98.11 L589.95 97.98 L590.27 97.85 L590.60 97.71 L590.92 97.58 L591.25 97.44 L591.58 97.31 L591.90 97.17 L592.23 97.03 L592.55 96.90 L592.88 96.76 L593.21 96.62 L593.53 96.49 L593.86 96.35 L594.18 96.21 L594.51 96.07 L594.84 95.94 L595.16 95.80 L595.49 95.66 L595.81 95.52 L596.14 95.38 L596.47 95.24 L596.79 95.10 L597.12 94.96 L597.45 94.81 L597.77 94.67 L598.10 94.53 L598.42 94.39 L598.75 94.25 L599.08 94.10 L599.40 93.96 L599.73 93.81 L600.05 93.67 L600.38 93.52 L600.71 93.38 L601.03 93.23 L601.36 93.09 L601.68 92.94 L602.01 92.79 L602.34 92.64 L602.66 92.49 L602.99 92.35 L603.32 92.20 L603.64 92.05 L603.97 91.90 L604.29 91.75 L604.62 91.59 L604.95 91.44 L605.27 91.29 L605.60 91.14 L605.92 90.98 L606.25 90.83 L606.58 90.68 L606.90 90.52 L607.23 90.37 L607.55 90.21 L607.88 90.05 L608.21 89.90 L608.53 89.74 L608.86 89.58 L609.18 89.42 L609.51 89.26 L609.84 89.10 L610.16 88.94 L610.49 88.78 L610.82 88.62 L611.14 88.46 L611.47 88.30 L611.79 88.13 L612.12 87.97 L612.45 87.81 L612.77 87.64 L613.10 87.48 L613.42 87.31 L613.75 87.14 L614.08 86.98 L614.40 86.81 L614.73 86.64 L615.05 86.47 L615.38 86.30 L615.71 86.13 L616.03 85.96 L616.36 85.79 L616.69 85.62 L617.01 85.44 L617.34 85.27 L617.66 85.10 L617.99 84.92 L618.32 84.75 L618.64 84.57 L618.97 84.39 L619.29 84.22 L619.62 84.04 L619.95 83.86 L620.27 83.68 L620.60 83.50 L620.92 83.32 L621.25 83.14 L621.58 82.96 L621.90 82.77 L622.23 82.59 L622.56 82.41 L622.88 82.22 L623.21 82.04 L623.53 81.85 L623.86 81.66 L624.19 81.48 L624.51 81.29 L624.84 81.10 L625.16 80.91 L625.49 80.72" fill="none" stroke="#d95319" stroke-width="1.5"/>
<path d="M364.61 172.60 L364.94 172.42 L365.26 172.23 L365.59 172.04 L365.91 171.86 L366.24 171.67 L366.57 171.49 L366.89 171.30 L367.22 171.12 L367.54 170.94 L367.87 170.75 L368.20 170.57 L368.52 170.39 L368.85 170.21 L369.18 170.03 L369.50 169.85 L369.83 169.68 L370.15 169.50 L370.48 169.32 L370.81 169.15 L371.13 168.97 L371.46 168.79 L371.78 168.62 L372.11 168.45 L372.44 168.27 L372.76 168.10 L373.09 167.93 L373.41 167.75 L373.74 167.58 L374.07 167.41 L374.39 167.24 L374.72 167.07 L375.05 166.90 L375.37 166.73 L375.70 166.56 L376.02 166.39 L376.35 166.23 L376.68 166.06 L377.00 165.89 L377.33 165.73 L377.65 165.56 L377.98 165.39 L378.31 165.23 L378.63 165.06 L378.96 164.90 L379.28 164.73 L379.61 164.57 L379.94 164.41 L380.26 164.24 L380.59 164.08 L380.92 163.92 L381.24 163.76 L381.57 163.59 L381.89 163.43 L382.22 163.27 L382.55 163.11 L382.87 162.95 L383.20 162.79 L383.52 162.63 L383.85 162.47 L384.18 162.31 L384.50 162.15 L384.83 161.99 L385.15 161.83 L385.48 161.67 L385.81 161.51 L386.13 161.35 L386.46 161.19 L386.78 161.03 L387.11 160.87 L387.44 160.71 L387.76 160.55 L388.09 160.39 L388.42 160.23 L388.74 160.07 L389.07 159.91 L389.39 159.75 L389.72 159.59 L390.05 159.43 L390.37 159.27 L390.70 159.11 L391.02 158.95 L391.35 158.79 L391.68 158.63 L392.00 158.46 L392.33 158.30 L392.65 158.14 L392.98 157.98 L393.31 157.81 L393.63 157.65 L393.96 157.49 L394.29 157.32 L394.61 157.16 L394.94 156.99 L395.26 156.82 L395.59 156.66 L395.92 156.49 L396.24 156.32 L396.57 156.15 L396.89 155.98 L397.22 155.81 L397.55 155.64 L397.87 155.47 L398.20 155.30 L398.52 155.12 L398.85 154.95 L399.18 154.77 L399.50 154.59 L399.83 154.42 L400.15 154.24 L400.48 154.06 L400.81 153.87 L401.13 153.69 L401.46 153.51 L401.79 153.32 L402.11 153.13 L402.44 152.95 L402.76 152.76 L403.09 152.56 L403.42 152.37 L403.74 152.18 L404.07 151.98 L404.39 151.78 L404.72 151.58 L405.05 151.38 L405.37 151.18 L405.70 150.97 L406.02 150.77 L406.35 150.56 L406.68 150.35 L407.00 150.13 L407.33 149.92 L407.66 149.70 L407.98 149.48 L408.31 149.26 L408.63 149.03 L408.96 148.81 L409.29 148.58 L409.61 148.34 L409.94 148.11 L410.26 147.87 L410.59 147.63 L410.92 147.39 L411.24 147.14 L411.57 146.89 L411.89 146.64 L412.22 146.39 L412.55 146.13 L412.87 145.87 L413.20 145.60 L413.53 145.34 L413.85 145.06 L414.18 144.79 L414.50 144.51 L414.83 144.23 L415.16 143.95 L415.48 143.66 L415.81 143.37 L416.13 143.07 L416.46 142.77 L416.79 142.47 L417.11 142.16 L417.44 141.85 L417.76 141.54 L418.09 141.22 L418.42 140.89 L418.74 140.57 L419.07 140.24 L419.39 139.90 L419.72 139.56 L420.05 139.22 L420.37 138.87 L420.70 138.51 L421.03 138.16 L421.35 137.79 L421.68 137.43 L422.00 137.06 L422.33 136.68 L422.66 136.30 L422.98 135.92 L423.31 135.53 L423.63 135.14 L423.96 134.74 L424.29 134.33 L424.61 133.93 L424.94 133.51 L425.26 133.10 L425.59 132.68 L425.92 132.25 L426.24 131.82 L426.57 131.38 L426.90 130.95 L427.22 130.50 L427.55 130.05 L427.87 129.60 L428.20 129.14 L428.53 128.68 L428.85 128.22 L429.18 127.75 L429.50 127.27 L429.83 126.79 L430.16 126.31 L430.48 125.83 L430.81 125.34 L431.13 124.85 L431.46 124.35 L431.79 123.85 L432.11 123.35 L432.44 122.84 L432.76 122.34 L433.09 121.83 L433.42 121.32 L433.74 120.80 L434.07 120.29 L434.40 119.77 L434.72 119.25 L435.05 118.73 L435.37 118.21 L435.70 117.69 L436.03 117.17 L436.35 116.65 L436.68 116.13 L437.00 115.61 L437.33 115.09 L437.66 114.57 L437.98 114.06 L438.31 113.55 L438.63 113.04 L438.96 112.53 L439.29 112.03 L439.61 111.53 L439.94 111.04 L440.27 110.55 L440.59 110.07 L440.92 109.60 L441.24 109.13 L441.57 108.67 L441.90 108.22 L442.22 107.77 L442.55 107.34 L442.87 106.91 L443.20 106.50 L443.53 106.10 L443.85 105.71 L444.18 105.33 L444.50 104.96 L444.83 104.61 L445.16 104.27 L445.48 103.95 L445.81 103.65 L446.13 103.36 L446.46 103.09 L446.79 102.83 L447.11 102.60 L447.44 102.38 L447.77 102.19 L448.09 102.01 L448.42 101.86 L448.74 101.73 L449.07 101.62 L449.40 101.53 L449.72 101.47 L450.05 101.44 L450.37 101.43 L450.70 101.44 L451.03 101.48 L451.35 101.55 L451.68 101.65 L452.00 101.77 L452.33 101.92 L452.66 102.10 L452.98 102.31 L453.31 102.55 L453.64 102.82 L453.96 103.12 L454.29 103.45 L454.61 103.81 L454.94 104.20 L455.27 104.62 L455.59 105.07 L455.92 105.55 L456.24 106.06 L456.57 106.60 L456.90 107.17 L457.22 107.78 L457.55 108.41 L457.87 109.07 L458.20 109.76 L458.53 110.48 L458.85 111.22 L459.18 111.99 L459.51 112.79 L459.83 113.62 L460.16 114.47 L460.48 115.34 L460.81 116.24 L461.14 117.16 L461.46 118.10 L461.79 119.06 L462.11 120.04 L462.44 121.04 L462.77 122.05 L463.09 123.08 L463.42 124.13 L463.74 125.18 L464.07 126.25 L464.40 127.33 L464.72 128.41 L465.05 129.51 L465.37 130.60 L465.70 131.71 L466.03 132.81 L466.35 133.92 L466.68 135.02 L467.01 136.12 L467.33 137.22 L467.66 138.31 L467.98 139.39 L468.31 140.46 L468.64 141.52 L468.96 142.57 L469.29 143.61 L469.61 144.63 L469.94 145.63 L470.27 146.61 L470.59 147.58 L470.92 148.52 L471.24 149.43 L471.57 150.32 L471.90 151.19 L472.22 152.03 L472.55 152.84 L472.88 153.62 L473.20 154.36 L473.53 155.08 L473.85 155.76 L474.18 156.41 L474.51 157.02 L474.83 157.59 L475.16 158.13 L475.48 158.63 L475.81 159.09 L476.14 159.52 L476.46 159.90 L476.79 160.25 L477.11 160.55 L477.44 160.81 L477.77 161.03 L478.09 161.21 L478.42 161.35 L478.75 161.45 L479.07 161.51 L479.40 161.52 L479.72 161.50 L480.05 161.43 L480.38 161.33 L480.70 161.18 L481.03 161.00 L481.35 160.77 L481.68 160.51 L482.01 160.21 L482.33 159.87 L482.66 159.49 L482.98 159.08 L483.31 158.64 L483.64 158.15 L483.96 157.64 L484.29 157.09 L484.61 156.51 L484.94 155.90 L485.27 155.26 L485.59 154.59 L485.92 153.89 L486.25 153.17 L486.57 152.42 L486.90 151.64 L487.22 150.84 L487.55 150.01 L487.88 149.17 L488.20 148.30 L488.53 147.41 L488.85 146.50 L489.18 145.57 L489.51 144.63 L489.83 143.67 L490.16 142.69 L490.48 141.71 L490.81 140.70 L491.14 139.69 L491.46 138.66 L491.79 137.62 L492.12 136.58 L492.44 135.52 L492.77 134.46 L493.09 133.39 L493.42 132.32 L493.75 131.24 L494.07 130.16 L494.40 129.07 L494.72 127.99 L495.05 126.90 L495.38 125.81 L495.70 124.73 L496.03 123.64 L496.35 122.56 L496.68 121.48 L497.01 120.41 L497.33 119.34 L497.66 118.28 L497.98 117.22 L498.31 116.18 L498.64 115.14 L498.96 114.11 L499.29 113.10 L499.62 112.09 L499.94 111.11 L500.27 110.13 L500.59 109.17 L500.92 108.23 L501.25 107.30 L501.57 106.39 L501.90 105.50 L502.22 104.63 L502.55 103.79 L502.88 102.96 L503.20 102.16 L503.53 101.38 L503.85 100.63 L504.18 99.91 L504.51 99.21 L504.83 98.54 L505.16 97.90 L505.49 97.29 L505.81 96.71 L506.14 96.16 L506.46 95.65 L506.79 95.16 L507.12 94.72 L507.44 94.31 L507.77 93.93 L508.09 93.59 L508.42 93.29 L508.75 93.03 L509.07 92.80 L509.40 92.62 L509.72 92.47 L510.05 92.37 L510.38 92.30 L510.70 92.28 L511.03 92.29 L511.36 92.35 L511.68 92.45 L512.01 92.59 L512.33 92.77 L512.66 92.99 L512.99 93.25 L513.31 93.55 L513.64 93.90 L513.96 94.28 L514.29 94.71 L514.62 95.17 L514.94 95.67 L515.27 96.21 L515.59 96.78 L515.92 97.39 L516.25 98.04 L516.57 98.72 L516.90 99.44 L517.22 100.18 L517.55 100.96 L517.88 101.77 L518.20 102.61 L518.53 103.48 L518.86 104.37 L519.18 105.28 L519.51 106.22 L519.83 107.19 L520.16 108.17 L520.49 109.17 L520.81 110.19 L521.14 111.23 L521.46 112.28 L521.79 113.34 L522.12 114.41 L522.44 115.49 L522.77 116.58 L523.09 117.68 L523.42 118.78 L523.75 119.88 L524.07 120.99 L524.40 122.09 L524.73 123.20 L525.05 124.29 L525.38 125.39 L525.70 126.47 L526.03 127.55 L526.36 128.62 L526.68 129.67 L527.01 130.72 L527.33 131.75 L527.66 132.76 L527.99 133.76 L528.31 134.74 L528.64 135.70 L528.96 136.64 L529.29 137.56 L529.62 138.46 L529.94 139.33 L530.27 140.18 L530.59 141.01 L530.92 141.81 L531.25 142.58 L531.57 143.32 L531.90 144.04 L532.23 144.73 L532.55 145.39 L532.88 146.02 L533.20 146.63 L533.53 147.20 L533.86 147.74 L534.18 148.25 L534.51 148.73 L534.83 149.18 L535.16 149.60 L535.49 149.99 L535.81 150.35 L536.14 150.68 L536.46 150.98 L536.79 151.25 L537.12 151.49 L537.44 151.70 L537.77 151.88 L538.10 152.03 L538.42 152.15 L538.75 152.25 L539.07 152.32 L539.40 152.36 L539.73 152.37 L540.05 152.36 L540.38 152.33 L540.70 152.27 L541.03 152.18 L541.36 152.07 L541.68 151.94 L542.01 151.79 L542.33 151.61 L542.66 151.42 L542.99 151.20 L543.31 150.97 L543.64 150.71 L543.97 150.44 L544.29 150.15 L544.62 149.85 L544.94 149.53 L545.27 149.19 L545.60 148.84 L545.92 148.47 L546.25 148.09 L546.57 147.70 L546.90 147.30 L547.23 146.89 L547.55 146.46 L547.88 146.03 L548.20 145.58 L548.53 145.13 L548.86 144.67 L549.18 144.20 L549.51 143.73 L549.83 143.25 L550.16 142.76 L550.49 142.27 L550.81 141.77 L551.14 141.27 L551.47 140.76 L551.79 140.25 L552.12 139.74 L552.44 139.23 L552.77 138.71 L553.10 138.19 L553.42 137.67 L553.75 137.15 L554.07 136.63 L554.40 136.11 L554.73 135.59 L555.05 135.07 L555.38 134.55 L555.70 134.03 L556.03 133.51 L556.36 133.00 L556.68 132.48 L557.01 131.97 L557.34 131.46 L557.66 130.96 L557.99 130.45 L558.31 129.95 L558.64 129.45 L558.97 128.95 L559.29 128.46 L559.62 127.97 L559.94 127.49 L560.27 127.01 L560.60 126.53 L560.92 126.05 L561.25 125.58 L561.57 125.12 L561.90 124.66 L562.23 124.20 L562.55 123.75 L562.88 123.30 L563.20 122.85 L563.53 122.42 L563.86 121.98 L564.18 121.55 L564.51 121.12 L564.84 120.70 L565.16 120.29 L565.49 119.87 L565.81 119.47 L566.14 119.06 L566.47 118.66 L566.79 118.27 L567.12 117.88 L567.44 117.50 L567.77 117.12 L568.10 116.74 L568.42 116.37 L568.75 116.01 L569.07 115.64 L569.40 115.29 L569.73 114.93 L570.05 114.58 L570.38 114.24 L570.71 113.90 L571.03 113.56 L571.36 113.23 L571.68 112.91 L572.01 112.58 L572.34 112.26 L572.66 111.95 L572.99 111.64 L573.31 111.33 L573.64 111.03 L573.97 110.73 L574.29 110.43 L574.62 110.14 L574.94 109.85 L575.27 109.57 L575.60 109.29 L575.92 109.01 L576.25 108.74 L576.58 108.46 L576.90 108.20 L577.23 107.93 L577.55 107.67 L577.88 107.41 L578.21 107.16 L578.53 106.91 L578.86 106.66 L579.18 106.41 L579.51 106.17 L579.84 105.93 L580.16 105.69 L580.49 105.46 L580.81 105.22 L581.14 104.99 L581.47 104.77 L581.79 104.54 L582.12 104.32 L582.44 104.10 L582.77 103.88 L583.10 103.67 L583.42 103.45 L583.75 103.24 L584.08 103.03 L584.40 102.83 L584.73 102.62 L585.05 102.42 L585.38 102.22 L585.71 102.02 L586.03 101.82 L586.36 101.62 L586.68 101.43 L587.01 101.24 L587.34 101.04 L587.66 100.85 L587.99 100.67 L588.31 100.48 L588.64 100.29 L588.97 100.11 L589.29 99.93 L589.62 99.74 L589.95 99.56 L590.27 99.38 L590.60 99.21 L590.92 99.03 L591.25 98.85 L591.58 98.68 L591.90 98.50 L592.23 98.33 L592.55 98.16 L592.88 97.99 L593.21 97.82 L593.53 97.65 L593.86 97.48 L594.18 97.31 L594.51 97.14 L594.84 96.98 L595.16 96.81 L595.49 96.64 L595.81 96.48 L596.14 96.31 L596.47 96.15 L596.79 95.99 L597.12 95.82 L597.45 95.66 L597.77 95.50 L598.10 95.34 L598.42 95.17 L598.75 95.01 L599.08 94.85 L599.40 94.69 L599.73 94.53 L600.05 94.37 L600.38 94.21 L600.71 94.05 L601.03 93.89 L601.36 93.73 L601.68 93.57 L602.01 93.41 L602.34 93.25 L602.66 93.09 L602.99 92.93 L603.32 92.77 L603.64 92.61 L603.97 92.45 L604.29 92.29 L604.62 92.13 L604.95 91.97 L605.27 91.81 L605.60 91.65 L605.92 91.49 L606.25 91.33 L606.58 91.17 L606.90 91.01 L607.23 90.85 L607.55 90.69 L607.88 90.53 L608.21 90.37 L608.53 90.21 L608.86 90.04 L609.18 89.88 L609.51 89.72 L609.84 89.56 L610.16 89.39 L610.49 89.23 L610.82 89.07 L611.14 88.90 L611.47 88.74 L611.79 88.57 L612.12 88.41 L612.45 88.24 L612.77 88.07 L613.10 87.91 L613.42 87.74 L613.75 87.57 L614.08 87.41 L614.40 87.24 L614.73 87.07 L615.05 86.90 L615.38 86.73 L615.71 86.56 L616.03 86.39 L616.36 86.22 L616.69 86.05 L617.01 85.87 L617.34 85.70 L617.66 85.53 L617.99 85.35 L618.32 85.18 L618.64 85.01 L618.97 84.83 L619.29 84.65 L619.62 84.48 L619.95 84.30 L620.27 84.12 L620.60 83.95 L620.92 83.77 L621.25 83.59 L621.58 83.41 L621.90 83.23 L622.23 83.05 L622.56 82.86 L622.88 82.68 L623.21 82.50 L623.53 82.31 L623.86 82.13 L624.19 81.94 L624.51 81.76 L624.84 81.57 L625.16 81.38 L625.49 81.20" fill="none" stroke="#7e2f8e" stroke-width="1.5"/>
<path d="M364.60 161.40 L625.50 92.40" fill="none" stroke="#edb120" stroke-width="1.7"/>
</g>
<rect x="364.6" y="24.0" width="107.1" height="58.8" fill="#fff" stroke="#222" stroke-width="1.3"/>
<line x1="372.4" y1="33.10" x2="408.4" y2="33.10" stroke="#edb120" stroke-width="1.6" stroke-dasharray="none"/>
<line x1="372.4" y1="46.60" x2="408.4" y2="46.60" stroke="#a2142f" stroke-width="1.6" stroke-dasharray="7 3 1.5 3"/>
<line x1="372.4" y1="60.80" x2="408.4" y2="60.80" stroke="#d95319" stroke-width="1.6" stroke-dasharray="7 3 1.5 3"/>
<line x1="372.4" y1="74.50" x2="408.4" y2="74.50" stroke="#7e2f8e" stroke-width="1.6" stroke-dasharray="1.5 3.07"/>
<text class="serif" font-size="14.00" fill="#000" stroke="#000" stroke-width="0.15" textLength="15.82" lengthAdjust="spacingAndGlyphs" x="0.80" y="9.70">(a)</text>
<text class="sans" font-size="12.00" fill="#1a1a1a" stroke="#1a1a1a" stroke-width="0.30" x="34.90" y="222.57">0</text>
<text class="sans" font-size="12.00" fill="#1a1a1a" stroke="#1a1a1a" stroke-width="0.30" textLength="24.02" lengthAdjust="spacingAndGlyphs" x="18.00" y="193.22">0.02</text>
<text class="sans" font-size="12.00" fill="#1a1a1a" stroke="#1a1a1a" stroke-width="0.30" textLength="23.02" lengthAdjust="spacingAndGlyphs" x="18.00" y="163.86">0.04</text>
<text class="sans" font-size="12.00" fill="#1a1a1a" stroke="#1a1a1a" stroke-width="0.30" textLength="24.02" lengthAdjust="spacingAndGlyphs" x="18.00" y="134.51">0.06</text>
<text class="sans" font-size="12.00" fill="#1a1a1a" stroke="#1a1a1a" stroke-width="0.30" textLength="24.02" lengthAdjust="spacingAndGlyphs" x="18.00" y="105.15">0.08</text>
<text class="sans" font-size="12.00" fill="#1a1a1a" stroke="#1a1a1a" stroke-width="0.30" textLength="16.72" lengthAdjust="spacingAndGlyphs" x="25.00" y="75.80">0.1</text>
<text class="sans" font-size="12.00" fill="#1a1a1a" stroke="#1a1a1a" stroke-width="0.30" textLength="24.02" lengthAdjust="spacingAndGlyphs" x="18.00" y="46.45">0.12</text>
<text class="sans" font-size="12.00" fill="#1a1a1a" stroke="#1a1a1a" stroke-width="0.30" textLength="23.02" lengthAdjust="spacingAndGlyphs" x="18.00" y="17.09">0.14</text>
<text class="sans" font-size="12.00" fill="#1a1a1a" stroke="#1a1a1a" stroke-width="0.30" textLength="23.25" lengthAdjust="spacingAndGlyphs" x="51.00" y="255.00">&#8722;0.1</text>
<text class="sans" font-size="12.00" fill="#1a1a1a" stroke="#1a1a1a" stroke-width="0.30" textLength="32.52" lengthAdjust="spacingAndGlyphs" x="101.70" y="255.00">&#8722;0.05</text>
<text class="sans" font-size="12.00" fill="#1a1a1a" stroke="#1a1a1a" stroke-width="0.30" x="173.30" y="255.00">0</text>
<text class="sans" font-size="12.00" fill="#1a1a1a" stroke="#1a1a1a" stroke-width="0.30" textLength="22.76" lengthAdjust="spacingAndGlyphs" x="218.90" y="255.00">0.05</text>
<text class="sans" font-size="12.00" fill="#1a1a1a" stroke="#1a1a1a" stroke-width="0.30" textLength="15.83" lengthAdjust="spacingAndGlyphs" x="276.80" y="255.00">0.1</text>
<text class="serif" font-size="14.20" fill="#222" textLength="106.30" lengthAdjust="spacingAndGlyphs" x="123.40" y="273.70">Displacement (m)</text>
<text class="serif" font-size="12.30" fill="#222" textLength="103.86" lengthAdjust="spacingAndGlyphs" transform="translate(9.10 178.30) rotate(-90)">Potential energy(J)</text>
<text class="sans" font-size="10.40" fill="#000" stroke="#000" stroke-width="0.30" textLength="23.10" lengthAdjust="spacingAndGlyphs" x="257.10" y="146.20">&#916;U1</text>
<text class="sans" font-size="10.40" fill="#000" stroke="#000" stroke-width="0.30" textLength="22.15" lengthAdjust="spacingAndGlyphs" x="223.20" y="177.10">&#916;U2</text>
<text class="serif" font-size="14.50" fill="#000" stroke="#000" stroke-width="0.15" textLength="17.81" lengthAdjust="spacingAndGlyphs" x="322.80" y="18.50">(b)</text>
<text class="sans" font-size="12.00" fill="#262626" stroke="#262626" stroke-width="0.12" textLength="13.16" lengthAdjust="spacingAndGlyphs" x="347.00" y="23.70">10</text>
<text class="sans" font-size="12.00" fill="#262626" stroke="#262626" stroke-width="0.12" x="353.10" y="78.25">5</text>
<text class="sans" font-size="12.00" fill="#262626" stroke="#262626" stroke-width="0.12" x="353.10" y="132.80">0</text>
<text class="sans" font-size="12.00" fill="#262626" stroke="#262626" stroke-width="0.12" textLength="9.55" lengthAdjust="spacingAndGlyphs" x="350.00" y="187.35">-5</text>
<text class="sans" font-size="12.00" fill="#262626" stroke="#262626" stroke-width="0.12" textLength="17.62" lengthAdjust="spacingAndGlyphs" x="342.80" y="241.90">-10</text>
<text class="sans" font-size="12.00" fill="#262626" stroke="#262626" stroke-width="0.12" textLength="27.07" lengthAdjust="spacingAndGlyphs" x="351.28" y="254.90">-0.06</text>
<text class="sans" font-size="12.00" fill="#262626" stroke="#262626" stroke-width="0.12" textLength="27.03" lengthAdjust="spacingAndGlyphs" x="394.52" y="254.90">-0.04</text>
<text class="sans" font-size="12.00" fill="#262626" stroke="#262626" stroke-width="0.12" textLength="27.07" lengthAdjust="spacingAndGlyphs" x="437.76" y="254.90">-0.02</text>
<text class="sans" font-size="12.00" fill="#262626" stroke="#262626" stroke-width="0.12" x="492.00" y="254.90">0</text>
<text class="sans" font-size="12.00" fill="#262626" stroke="#262626" stroke-width="0.12" textLength="22.96" lengthAdjust="spacingAndGlyphs" x="527.29" y="254.90">0.02</text>
<text class="sans" font-size="12.00" fill="#262626" stroke="#262626" stroke-width="0.12" textLength="22.92" lengthAdjust="spacingAndGlyphs" x="570.53" y="254.90">0.04</text>
<text class="sans" font-size="12.00" fill="#262626" stroke="#262626" stroke-width="0.12" textLength="22.96" lengthAdjust="spacingAndGlyphs" x="613.77" y="254.90">0.06</text>
<text class="serif" font-size="14.20" fill="#262626" textLength="102.15" lengthAdjust="spacingAndGlyphs" x="444.60" y="271.60">Displacement (m)</text>
<text class="serif" font-size="13.90" fill="#262626" textLength="100.35" lengthAdjust="spacingAndGlyphs" transform="translate(342.00 177.50) rotate(-90)">Restore force (N)</text>
<text class="serif" font-size="12.20" fill="#262626" textLength="29.95" lengthAdjust="spacingAndGlyphs" x="411.50" y="38.10">Linear</text>
<text class="serif" font-size="12.20" fill="#262626" textLength="55.07" lengthAdjust="spacingAndGlyphs" x="412.50" y="51.80">Quasi linear</text>
<text class="serif" font-size="12.20" fill="#262626" textLength="38.55" lengthAdjust="spacingAndGlyphs" x="411.50" y="65.90">Bistable</text>
<text class="serif" font-size="12.20" fill="#262626" textLength="40.12" lengthAdjust="spacingAndGlyphs" x="412.50" y="79.00">Tristable</text>
</svg></body></html>
